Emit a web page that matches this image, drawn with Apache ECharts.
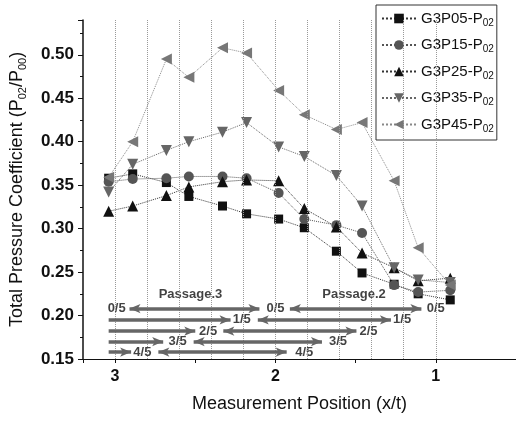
<!DOCTYPE html>
<html>
<head>
<meta charset="utf-8">
<script src="https://cdn.jsdelivr.net/npm/echarts@6/dist/echarts.min.js"></script>
<style>
  html, body { margin: 0; padding: 0; background: #fff; }
  #chart { width: 516px; height: 424px; }
</style>
</head>
<body>
<div id="chart"></div>
<script>
const positions = [3.04, 2.89, 2.68, 2.54, 2.33, 2.18, 1.98, 1.82, 1.62, 1.46, 1.26, 1.11, 0.91]

const g3p05 = [0.358, 0.363, 0.353, 0.337, 0.326, 0.317, 0.311, 0.301, 0.274, 0.249, 0.236, 0.225, 0.218]
const g3p15 = [0.354, 0.357, 0.358, 0.360, 0.360, 0.358, 0.341, 0.311, 0.304, 0.295, 0.235, 0.227, 0.229]
const g3p25 = [0.320, 0.326, 0.338, 0.348, 0.354, 0.356, 0.355, 0.323, 0.302, 0.272, 0.255, 0.240, 0.243]
const g3p35 = [0.342, 0.374, 0.390, 0.400, 0.411, 0.422, 0.394, 0.383, 0.361, 0.326, 0.255, 0.241, 0.238]
const g3p45 = [0.359, 0.400, 0.495, 0.474, 0.508, 0.502, 0.459, 0.431, 0.414, 0.422, 0.355, 0.278, 0.235]

// vertical dotted guide lines
const guideLines = [3.0, 2.8, 2.6, 2.4, 2.2, 2.0, 1.8, 1.6, 1.4, 1.2, 1.0]

// passage fraction arrows: [fromX, toX, y]
const singleArrows = [
  [3.04, 2.28, 0.195],
  [3.04, 2.50, 0.182],
  [3.04, 2.70, 0.170],
  [3.04, 2.90, 0.158]
]
const doubleArrows = [
  [2.91, 2.10, 0.208],
  [1.91, 1.09, 0.208],
  [2.11, 1.28, 0.195],
  [2.325, 1.495, 0.182],
  [2.51, 1.71, 0.170],
  [2.73, 1.93, 0.158]
]
// fraction labels: [x, y, text]
const fractionLabels = [
  [2.99, 0.208, '0/5'], [2.0, 0.208, '0/5'], [1.0, 0.208, '0/5'],
  [2.21, 0.195, '1/5'], [1.21, 0.195, '1/5'],
  [2.42, 0.182, '2/5'], [1.42, 0.182, '2/5'],
  [2.61, 0.170, '3/5'], [1.61, 0.170, '3/5'],
  [2.83, 0.158, '4/5'], [1.82, 0.158, '4/5']
]
const passageLabels = [
  [2.53, 0.224, 'Passage.3'],
  [1.51, 0.224, 'Passage.2']
]

const FONT = 'Liberation Sans, Arial, sans-serif'

const chart = echarts.init(document.getElementById('chart'))

const lineSeries = [
  { name: 'G3P05', values: g3p05, symbol: 'rect', rotate: 0, color: '#111', line: '#333', size: 9 },
  { name: 'G3P15', values: g3p15, symbol: 'circle', rotate: 0, color: '#555', line: '#555', size: 10 },
  { name: 'G3P25', values: g3p25, symbol: 'triangle', rotate: 0, color: '#111', line: '#333', size: 11 },
  { name: 'G3P35', values: g3p35, symbol: 'triangle', rotate: 180, color: '#666', line: '#666', size: 11 },
  { name: 'G3P45', values: g3p45, symbol: 'triangle', rotate: 90, color: '#777', line: '#888', size: 11 }
].map(s => ({
  name: s.name,
  type: 'line',
  data: positions.map((x, i) => [x, s.values[i]]),
  symbol: s.symbol,
  symbolRotate: s.rotate,
  symbolSize: s.size,
  itemStyle: { color: s.color },
  lineStyle: { color: s.line, width: 1, type: 'dotted' },
  z: 3
}))

chart.setOption({
  animation: false,
  textStyle: { fontFamily: FONT },
  grid: { left: 83, right: 0, top: 20, bottom: 65, outerBoundsMode: 'none' },
  legend: {
    data: lineSeries.map(s => s.name),
    orient: 'vertical',
    left: 376,
    top: 5,
    itemWidth: 34,
    itemHeight: 12,
    itemGap: 9.5,
    padding: [6, 3, 6, 5],
    borderColor: '#333',
    borderWidth: 1,
    formatter: name => `{a|${name}-P}{s|02}`,
    textStyle: {
      rich: {
        a: { fontSize: 15, color: '#111', fontFamily: FONT },
        s: { fontSize: 10, color: '#111', fontFamily: FONT, padding: [9, 0, 0, 0] }
      }
    }
  },
  xAxis: {
    type: 'value',
    inverse: true,
    min: 0.5,
    max: 3.2,
    interval: 0.5,
    name: 'Measurement Position (x/t)',
    nameLocation: 'middle',
    nameGap: 36,
    nameTextStyle: { fontSize: 18, color: '#111', fontFamily: FONT },
    axisLine: { lineStyle: { color: '#111', width: 1.2 } },
    axisTick: { length: 4, lineStyle: { color: '#111' } },
    axisLabel: {
      margin: 10,
      fontSize: 16,
      fontWeight: 'bold',
      color: '#111',
      formatter: v => (Math.abs(v - Math.round(v)) < 1e-6 ? String(Math.round(v)) : '')
    },
    splitLine: { show: false }
  },
  yAxis: {
    type: 'value',
    min: 0.15,
    max: 0.54,
    interval: 0.05,
    name: '{a|Total Pressure Coefficient (P}{s|02}{a|/P}{s|00}{a|)}',
    nameLocation: 'middle',
    nameGap: 55,
    nameTextStyle: {
      rich: {
        a: { fontSize: 18, color: '#111', fontFamily: FONT },
        s: { fontSize: 11, color: '#111', fontFamily: FONT, padding: [10, 0, 0, 0] }
      }
    },
    axisLine: { show: true, lineStyle: { color: '#111', width: 1.5 } },
    axisTick: { show: true, length: 5, lineStyle: { color: '#111' } },
    minorTick: { show: true, splitNumber: 2, length: 3, lineStyle: { color: '#111' } },
    axisLabel: {
      margin: 9,
      fontSize: 17,
      fontWeight: 'bold',
      color: '#111',
      showMaxLabel: false,
      formatter: v => v.toFixed(2)
    },
    splitLine: { show: false }
  },
  series: [
    ...lineSeries,
    {
      name: 'guides',
      type: 'line',
      data: [],
      markLine: {
        silent: true,
        symbol: 'none',
        label: { show: false },
        lineStyle: { color: '#999', width: 1, type: 'dotted' },
        data: guideLines.map(x => ({ xAxis: x }))
      },
      z: 1
    },
    {
      name: 'single',
      type: 'line',
      data: [],
      markLine: {
        silent: true,
        symbol: ['none', 'arrow'],
        symbolSize: [7, 11],
        label: { show: false },
        lineStyle: { color: '#666', width: 3.5, type: 'solid' },
        data: singleArrows.map(a => [{ coord: [a[0], a[2]] }, { coord: [a[1], a[2]] }])
      },
      z: 2
    },
    {
      name: 'double',
      type: 'line',
      data: [],
      markLine: {
        silent: true,
        symbol: ['arrow', 'arrow'],
        symbolSize: [7, 11],
        label: { show: false },
        lineStyle: { color: '#666', width: 3.5, type: 'solid' },
        data: doubleArrows.map(a => [{ coord: [a[0], a[2]] }, { coord: [a[1], a[2]] }])
      },
      z: 2
    },
    {
      name: 'fractions',
      type: 'scatter',
      data: fractionLabels,
      symbolSize: 0,
      silent: true,
      label: {
        show: true,
        position: 'inside',
        formatter: p => p.data[2],
        fontSize: 13,
        fontWeight: 'bold',
        color: '#111',
        fontFamily: FONT
      },
      z: 4
    },
    {
      name: 'passages',
      type: 'scatter',
      data: passageLabels,
      symbolSize: 0,
      silent: true,
      label: {
        show: true,
        position: 'inside',
        formatter: p => p.data[2],
        fontSize: 13,
        fontWeight: 'bold',
        color: '#111',
        fontFamily: FONT
      },
      z: 4
    }
  ]
})

window.addEventListener('resize', () => chart.resize())
</script>
</body>
</html>
